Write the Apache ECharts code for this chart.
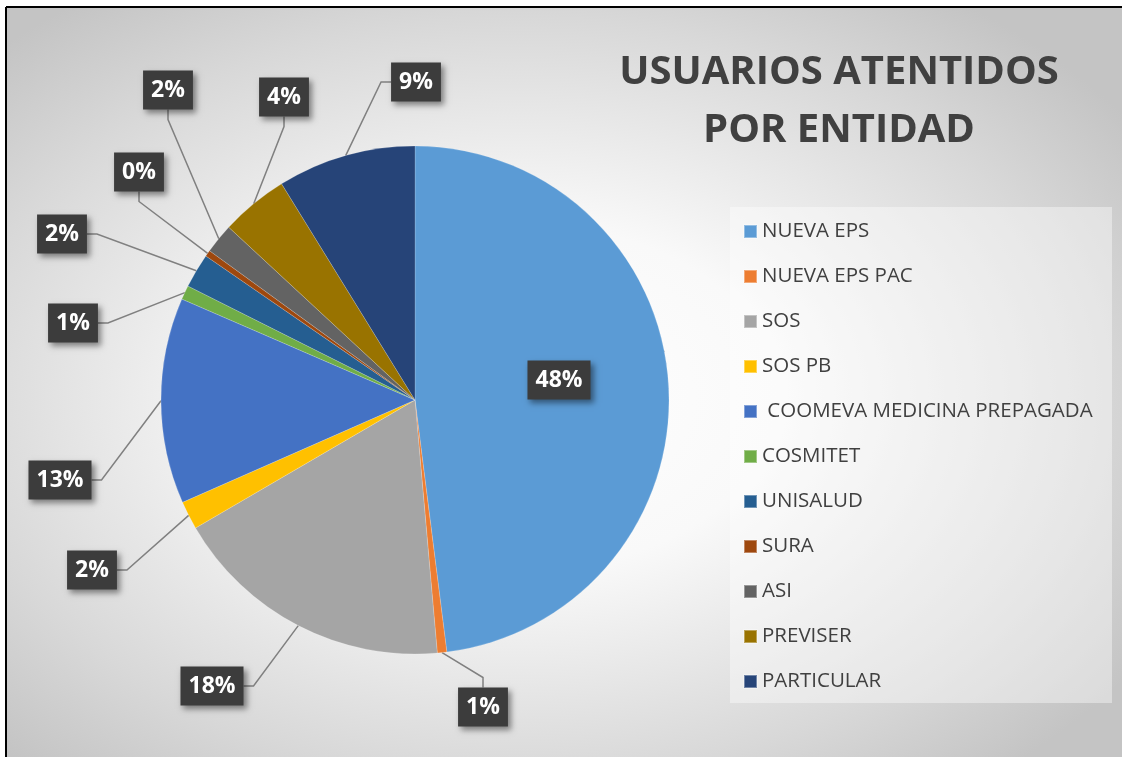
<!DOCTYPE html>
<html>
<head>
    <meta charset="utf-8"/>
    <script src="https://cdn.jsdelivr.net/npm/echarts@6/dist/echarts.min.js"></script>
    <style>
        html, body { margin: 0; padding: 0; background: #fff; }
    </style>
</head>
<body>
<div id="main" style="width: 1122px;height:757px;"></div>
<script type="text/javascript">
    var chartDom = document.getElementById('main');
    var myChart = echarts.init(chartDom);
    var option;

    // entidades y porcentaje aproximado de usuarios
    var entidades = ['NUEVA EPS', 'NUEVA EPS PAC', 'SOS', 'SOS PB', ' COOMEVA MEDICINA PREPAGADA',
        'COSMITET', 'UNISALUD', 'SURA', 'ASI', 'PREVISER', 'PARTICULAR'];
    var usuarios = [48.0, 0.6, 18.0, 1.8, 13.1, 0.9, 2.2, 0.4, 1.9, 4.3, 8.8];
    var colores = ['#5B9BD5', '#ED7D31', '#A5A5A5', '#FFC000', '#4472C4',
        '#70AD47', '#255E91', '#9E480E', '#636363', '#997300', '#264478'];

    // posición (centro) de cada etiqueta, estilo Excel
    var posEtiquetas = [[559, 380], [483, 707], [212, 686], [92, 570], [60, 480],
        [73, 323], [62, 234], [139, 172], [168, 90], [284, 97], [416, 82]];

    var fuente = '"Open Sans", "Liberation Sans", sans-serif';

    option = {
        animation: false,
        color: colores,
        title: {
            text: 'USUARIOS ATENTIDOS\nPOR ENTIDAD',
            left: 834,
            top: 39,
            textAlign: 'center',
            textStyle: {
                fontFamily: fuente,
                fontSize: 40,
                fontWeight: 'bold',
                color: '#404040',
                lineHeight: 58
            }
        },
        legend: {
            orient: 'vertical',
            left: 738,
            top: 216,
            icon: 'rect',
            itemWidth: 13,
            itemHeight: 13,
            itemGap: 24,
            data: entidades,
            textStyle: {
                fontFamily: fuente,
                fontSize: 20.5,
                lineHeight: 20,
                color: '#404040'
            }
        },
        graphic: [
            {
                type: 'rect',
                z: -10,
                x: 7, y: 8,
                scaleX: 1115 / 749,
                shape: { x: 0, y: 0, width: 749, height: 749 },
                style: {
                    fill: new echarts.graphic.RadialGradient(0.46, 0.52, 0.66, [
                        { offset: 0, color: '#ffffff' },
                        { offset: 0.35, color: '#f9f9f9' },
                        { offset: 0.77, color: '#d8d8d8' },
                        { offset: 1, color: '#c4c4c4' }
                    ])
                },
                silent: true
            },
            {
                type: 'rect',
                z: -5,
                shape: { x: 730, y: 207, width: 382, height: 496 },
                style: { fill: 'rgba(255,255,255,0.4)' },
                silent: true
            },
            {
                type: 'line',
                shape: { x1: 6, y1: 7, x2: 1122, y2: 7 },
                style: { stroke: '#000', lineWidth: 2 },
                silent: true
            },
            {
                type: 'line',
                shape: { x1: 6, y1: 7, x2: 6, y2: 757 },
                style: { stroke: '#000', lineWidth: 2 },
                silent: true
            }
        ],
        series: [
            {
                type: 'pie',
                center: [415, 400],
                radius: 254,
                startAngle: 90,
                clockwise: true,
                data: entidades.map(function (n, i) {
                    var d = { name: n, value: usuarios[i] };
                    if (i === 0) d.label = { position: 'inside' };
                    return d;
                }),
                itemStyle: {
                    borderColor: 'rgba(255,255,255,0.35)',
                    borderWidth: 0.5
                },
                label: {
                    show: true,
                    position: 'outside',
                    formatter: function (p) { return Math.round(p.percent) + '%'; },
                    fontFamily: fuente,
                    fontSize: 23,
                    fontWeight: 'bold',
                    color: '#ffffff',
                    backgroundColor: '#3c3c3c',
                    padding: [9, 8, 7, 8],
                    shadowColor: 'rgba(0,0,0,0.45)',
                    shadowBlur: 6,
                    shadowOffsetX: 3,
                    shadowOffsetY: 3
                },
                labelLine: {
                    show: true,
                    length: 20,
                    length2: 10,
                    lineStyle: { color: '#808080', width: 1.5 }
                },
                labelLayout: function (params) {
                    var p = posEtiquetas[params.dataIndex];
                    return { x: p[0], y: p[1], align: 'center', verticalAlign: 'middle', moveOverlap: false };
                },
                emphasis: { disabled: true }
            }
        ]
    };

    option && myChart.setOption(option);
</script>
</body>
</html>
